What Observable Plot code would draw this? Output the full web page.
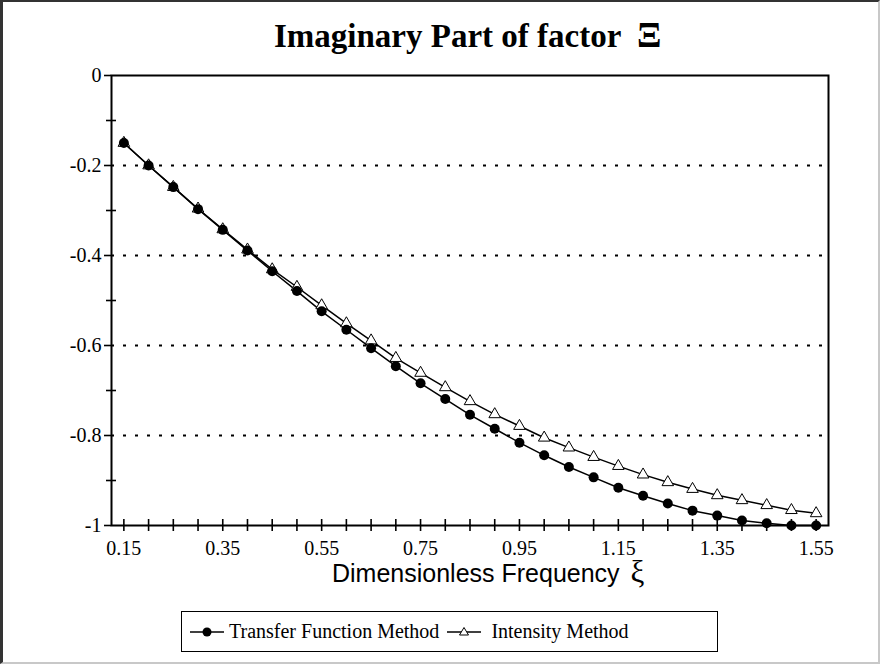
<!DOCTYPE html>
<html>
<head>
<meta charset="utf-8">
<script src="https://cdn.jsdelivr.net/npm/d3@7"></script>
<script src="https://cdn.jsdelivr.net/npm/@observablehq/plot@0.6"></script>
<style>
  html, body { margin: 0; padding: 0; background: #fff; }
  #fig { position: relative; width: 880px; height: 664px; overflow: hidden; background: #fff; }
  #border { position: absolute; left: 0; top: 0; width: 880px; height: 664px; box-sizing: border-box;
    border-top: 2px solid #333; border-left: 3px solid #333; border-right: 2px solid #c8c8c8; border-bottom: 2px solid #c8c8c8; pointer-events: none; }
  #title { position: absolute; left: 274px; top: 19px;
    font-family: "Liberation Serif", "Times New Roman", serif; font-weight: bold; font-size: 33px; line-height: 33px; white-space: nowrap; }
  #title .sym { font-size: 36px; margin-left: 8px; }
  #plot { position: absolute; left: 0; top: 60px; }
  #xlabel { position: absolute; left: 332px; top: 559px; font-family: "Liberation Sans", Arial, sans-serif; font-size: 25px; line-height: 25px; white-space: nowrap; }
  #xlabel .sym { font-family: "Liberation Serif", "Times New Roman", serif; font-size: 31px; margin-left: 4px; }
  #legend { position: absolute; left: 181px; top: 611px; width: 537px; height: 41px; box-sizing: border-box; border: 1.5px solid #000;
    display: flex; align-items: center; padding-left: 8px; font-family: "Liberation Serif", "Times New Roman", serif; font-size: 20px; white-space: nowrap; }
  #legend svg { display: block; margin-right: 5px; }
  #legend .item { display: flex; align-items: center; margin-right: 8px; }
  #legend .item + .item svg { margin-right: 10px; }
</style>
</head>
<body>
<div id="fig">
  <div id="title">Imaginary Part of factor <span class="sym">Ξ</span></div>
  <div id="plot"></div>
  <div id="xlabel">Dimensionless Frequency <span class="sym">ξ</span></div>
  <div id="legend"></div>
  <div id="border"></div>
</div>
<script>
// ---- data ----
const xVals = [0.15, 0.20, 0.25, 0.30, 0.35, 0.40, 0.45, 0.50, 0.55, 0.60, 0.65, 0.70, 0.75, 0.80, 0.85,
               0.90, 0.95, 1.00, 1.05, 1.10, 1.15, 1.20, 1.25, 1.30, 1.35, 1.40, 1.45, 1.50, 1.55];
const transferFunction = [-0.150, -0.200, -0.248, -0.297, -0.343, -0.389, -0.435, -0.479, -0.524, -0.565,
                          -0.606, -0.646, -0.684, -0.719, -0.754, -0.785, -0.816, -0.844, -0.870, -0.893,
                          -0.916, -0.934, -0.951, -0.967, -0.978, -0.989, -0.995, -1.000, -1.000];
const intensity = [-0.150, -0.200, -0.248, -0.296, -0.342, -0.387, -0.431, -0.470, -0.511, -0.551,
                   -0.589, -0.628, -0.661, -0.693, -0.724, -0.753, -0.779, -0.805, -0.827, -0.848,
                   -0.868, -0.887, -0.904, -0.919, -0.933, -0.944, -0.955, -0.966, -0.973];
const seriesNames = ["Transfer Function Method", "Intensity Method"];
const yTickLabels = [0, -0.2, -0.4, -0.6, -0.8, -1];
const yMinorTicks = [-0.1, -0.3, -0.5, -0.7, -0.9];
const gridValues = [-0.2, -0.4, -0.6, -0.8];
const xTickLabels = [0.15, 0.35, 0.55, 0.75, 0.95, 1.15, 1.35, 1.55];
const xMinorTicks = [0.15, 0.20, 0.25, 0.30, 0.35, 0.40, 0.45, 0.50, 0.55, 0.60, 0.65, 0.70, 0.75, 0.80, 0.85,
                     0.90, 0.95, 1.00, 1.05, 1.10, 1.15, 1.20, 1.25, 1.30, 1.35, 1.40, 1.45, 1.50, 1.55];

const tf = xVals.map((x, i) => ({x, y: transferFunction[i]}));
const im = xVals.map((x, i) => ({x, y: intensity[i]}));

const yFmt = d => d === 0 ? "0" : (d === -1 ? "-1" : "-" + Math.abs(d).toFixed(1));

const chart = Plot.plot({
  width: 880,
  height: 500,
  marginTop: 15,
  marginLeft: 111,
  marginRight: 52,
  marginBottom: 35,
  x: {domain: [0.125, 1.575], label: null},
  y: {domain: [-1, 0], label: null},
  style: {fontFamily: '"Liberation Serif", "Times New Roman", serif', fontSize: "20px", color: "#000", background: "transparent", overflow: "visible"},
  marks: [
    Plot.gridY(gridValues, {stroke: "#000", strokeOpacity: 1, strokeDasharray: "3,9", strokeWidth: 2}),
    Plot.line(im, {x: "x", y: "y", stroke: "#000", strokeWidth: 1.5}),
    Plot.line(tf, {x: "x", y: "y", stroke: "#000", strokeWidth: 1.5}),
    Plot.dot(im, {x: "x", y: "y", symbol: "triangle", r: 4.3, fill: "#fff", stroke: "#000", strokeWidth: 1}),
    Plot.dot(tf, {x: "x", y: "y", r: 5, fill: "#000", stroke: "none"}),
    Plot.frame({stroke: "#000", strokeWidth: 2}),
    Plot.axisY(yTickLabels, {tickSize: 7, tickPadding: 3, tickFormat: yFmt, strokeWidth: 1.6}),
    Plot.axisY(yMinorTicks, {tickSize: 10, dx: 5, tickFormat: () => "", strokeWidth: 1.6}),
    Plot.axisX(xMinorTicks, {tickSize: 12, dy: -6, tickFormat: () => "", strokeWidth: 1.6}),
    Plot.axisX(xTickLabels, {tickSize: 0, tickPadding: 15, tickFormat: d => d.toFixed(2)})
  ]
});
document.getElementById("plot").appendChild(chart);

// ---- legend ----
const legend = document.getElementById("legend");
const ns = "http://www.w3.org/2000/svg";
seriesNames.forEach((name, i) => {
  const item = document.createElement("div");
  item.className = "item";
  const svg = document.createElementNS(ns, "svg");
  svg.setAttribute("width", 34); svg.setAttribute("height", 20);
  const ln = document.createElementNS(ns, "line");
  ln.setAttribute("x1", 0); ln.setAttribute("x2", 34); ln.setAttribute("y1", 10); ln.setAttribute("y2", 10);
  ln.setAttribute("stroke", "#000"); ln.setAttribute("stroke-width", 1.5);
  svg.appendChild(ln);
  if (i === 0) {
    const c = document.createElementNS(ns, "circle");
    c.setAttribute("cx", 17); c.setAttribute("cy", 10); c.setAttribute("r", 4.5); c.setAttribute("fill", "#000");
    svg.appendChild(c);
  } else {
    const p = document.createElementNS(ns, "path");
    p.setAttribute("d", "M17,5.5L21.5,13H12.5Z");
    p.setAttribute("fill", "#fff"); p.setAttribute("stroke", "#000"); p.setAttribute("stroke-width", 1);
    svg.appendChild(p);
  }
  item.appendChild(svg);
  const t = document.createElement("span");
  t.textContent = name;
  item.appendChild(t);
  legend.appendChild(item);
});
</script>
</body>
</html>
